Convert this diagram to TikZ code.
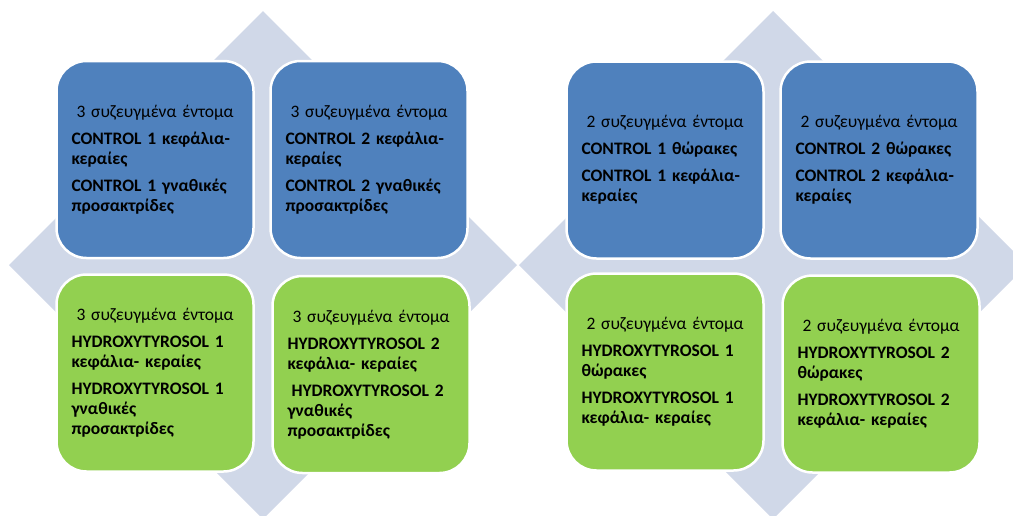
\documentclass[tikz,border=0pt]{standalone}
\usepackage{fontspec}
\setmainfont{Carlito}
\usepackage{tikz}
\definecolor{ctrlblue}{HTML}{4F81BD}
\definecolor{hydrgreen}{HTML}{92D050}
\definecolor{diamgrey}{HTML}{D0D8E8}
\tikzset{diam/.style={fill=diamgrey},
  card/.style={rounded corners=30pt,draw=white,line width=2.5pt,
    minimum width=197pt,minimum height=197pt,text width=167pt,
    inner sep=0pt,align=left,font=\fontsize{17.5}{20}\selectfont\bfseries},
  ctrl/.style={card,fill=ctrlblue},
  hydr/.style={card,fill=hydrgreen}
}
\newcommand{\pairs}[1]{\hspace*{5pt}{\mdseries #1 συζευγμένα έντομα}\\[7pt]}

\begin{document}
\begin{tikzpicture}[x=1pt,y=-1pt]
\useasboundingbox (0,0) rectangle (1013,515);
% diamonds behind
\foreach \cx in {263,773}
  \fill[diam] (\cx,11) -- (\cx+254,265) -- (\cx,519) -- (\cx-254,265) -- cycle;

% three pairs
\begin{scope}
\node[ctrl] (c1) at (155,159.5) {\pairs{3}CONTROL 1 κεφάλια-\\κεραίες\\[7pt]CONTROL 1 γναθικές\\προσακτρίδες};
\node[ctrl] (c2) at (369,159.5) {\pairs{3}CONTROL 2 κεφάλια-\\κεραίες\\[7pt]CONTROL 2 γναθικές\\προσακτρίδες};
\node[hydr] (h1) at (155,373) {\pairs{3}HYDROXYTYROSOL 1\\κεφάλια- κεραίες\\[7pt]HYDROXYTYROSOL 1\\γναθικές\\προσακτρίδες};
\node[hydr] (h2) at (371,374.5) {\pairs{3}HYDROXYTYROSOL 2\\κεφάλια- κεραίες\\[7pt]\hspace*{4pt}HYDROXYTYROSOL 2\\γναθικές\\προσακτρίδες};
\end{scope}

% two pairs
\begin{scope}[xshift=510pt]
\node[ctrl] (ct1) at (155,160) {\pairs{2}CONTROL 1 θώρακες\\[7pt]CONTROL 1 κεφάλια-\\κεραίες};
\node[ctrl] (ct2) at (369,160) {\pairs{2}CONTROL 2 θώρακες\\[7pt]CONTROL 2 κεφάλια-\\κεραίες};
\node[hydr] (ht1) at (155,372) {\pairs{2}HYDROXYTYROSOL 1\\θώρακες\\[7pt]HYDROXYTYROSOL 1\\κεφάλια- κεραίες};
\node[hydr] (ht2) at (371,374) {\pairs{2}HYDROXYTYROSOL 2\\θώρακες\\[7pt]HYDROXYTYROSOL 2\\κεφάλια- κεραίες};
\end{scope}
\end{tikzpicture}
\end{document}
